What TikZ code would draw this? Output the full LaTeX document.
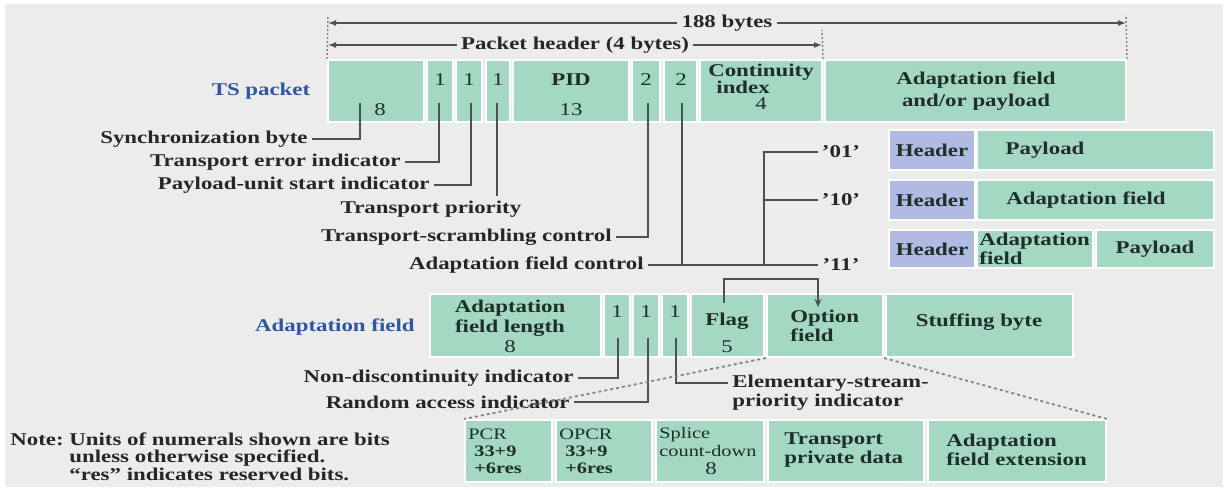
\documentclass[tikz,border=0pt]{standalone}
\usepackage{fontspec}
\setmainfont{Liberation Serif}[FakeStretch=1.27]
\usetikzlibrary{arrows.meta,fit}

\definecolor{bg}{HTML}{ECECEC}
\definecolor{cellgreen}{HTML}{A4D8C3}
\definecolor{hdrblue}{HTML}{B1BAE2}
\definecolor{tsblue}{HTML}{2D56A3}
\definecolor{ink}{HTML}{1E2E28}
\definecolor{leadgray}{HTML}{505050}

\begin{document}
\begin{tikzpicture}[x=0.5pt, y=-0.5pt,
  cell/.style={draw=white, line width=1pt, fill=cellgreen, inner sep=0pt},
  hdrcell/.style={cell, fill=hdrblue},
  txt/.style={font=\bfseries\fontsize{9}{9.8}\selectfont, text=ink, inner sep=1pt, align=center},
  num/.style={font=\fontsize{9}{9.8}\selectfont, text=ink, inner sep=1pt},
  lbl/.style={font=\bfseries\fontsize{9}{9.8}\selectfont, text=black!85, inner sep=2pt},
  rowname/.style={lbl, text=tsblue},
  leader/.style={draw=leadgray, line width=0.7pt},
  guide/.style={draw=leadgray!70, line width=0.7pt, dash pattern=on 1pt off 1pt},
  dim/.style={leader, -{Latex[length=4pt,width=3pt]}},
  zoomline/.style={draw=leadgray!70, line width=0.9pt, dash pattern=on 1.5pt off 1.5pt}]
\useasboundingbox (0,0) rectangle (1229,490);
\fill[white] (0,0) rectangle (1229,490);
\fill[bg] (5,4) rectangle (1223,487);

% TS packet
\node[rowname] (tsname) at (261,91) {TS packet};
\node[cell, fit={(328,60) (424,122)}] (sync) {};
\node[cell, fit={(427,60) (453,122)}] (tei) {};
\node[cell, fit={(456,60) (482,122)}] (pusi) {};
\node[cell, fit={(486,60) (510,122)}] (tprio) {};
\node[cell, fit={(513,60) (629,122)}] (pid) {};
\node[cell, fit={(632,60) (660,122)}] (tsc) {};
\node[cell, fit={(664,60) (697,122)}] (afc) {};
\node[cell, fit={(700,60) (822,122)}] (cc) {};
\node[cell, fit={(825,60) (1126,122)}] (afpay) {};

\node[num] (syncN) at (380,110) {8};
\node[num] (teiN) at (440,80) {1};
\node[num] (pusiN) at (469,80) {1};
\node[num] (tprioN) at (498,80) {1};
\node[txt] (pidT) at (571,80) {PID};
\node[num] (pidN) at (571,110) {13};
\node[num] (tscN) at (646,80) {2};
\node[num] (afcN) at (681,80) {2};
\node[txt] (ccT) at (761,72) {Continuity};
\node[txt, anchor=west] (ccT2) at (714,87) {index};
\node[num] (ccN) at (761,104) {4};
\node[txt] (afpayT) at (976,91) {Adaptation field\\[1pt]and/or payload};

% lengths
\coordinate (l188) at (328,23);
\coordinate (r188) at (1126,23);
\node[lbl, fill=bg] (t188) at (727,23) {188 bytes};
\draw[dim] (t188) -- (l188);
\draw[dim] (t188) -- (r188);
\coordinate (lhdr) at (328,45);
\coordinate (rhdr) at (822,45);
\node[lbl] (thdr) at (575,45) {Packet header (4 bytes)};
\draw[dim] (thdr) -- (lhdr);
\draw[dim] (thdr) -- (rhdr);
\coordinate (g188l) at (328,15);
\coordinate (g188r) at (1126,15);
\coordinate (ghdr) at (822,30);
\draw[guide] (sync.north west) -- (g188l);
\draw[guide] (afpay.north east) -- (g188r);
\draw[guide] (cc.north east) -- (ghdr);

% header fields
\coordinate (pSync) at (360,103);
\coordinate (pTei) at (439,103);
\coordinate (pPusi) at (471,103);
\coordinate (pTprio) at (497,103);
\coordinate (pTsc) at (648,103);
\coordinate (pAfc) at (682,103);
\node[lbl, anchor=east] (lSync) at (312,139) {Synchronization byte};
\node[lbl, anchor=east] (lTei) at (405,162) {Transport error indicator};
\node[lbl, anchor=east] (lPusi) at (434,185) {Payload-unit start indicator};
\node[lbl] (lTprio) at (431,209) {Transport priority};
\node[lbl, anchor=east] (lTsc) at (616,237) {Transport-scrambling control};
\node[lbl, anchor=east] (lAfc) at (648,265) {Adaptation field control};
\draw[leader] (pSync) |- (lSync);
\draw[leader] (pTei) |- (lTei);
\draw[leader] (pPusi) |- (lPusi);
\draw[leader] (pTprio) -- (pTprio |- lTprio.north);
\draw[leader] (pTsc) |- (lTsc);
\draw[leader] (pAfc) -- (pAfc |- lAfc);

% adaptation field control values
\node[lbl] (c01) at (841,152) {'01'};
\node[lbl] (c10) at (841,200) {'10'};
\node[lbl] (c11) at (841,265) {'11'};
\coordinate (fork) at (764,265);
\draw[leader] (lAfc) -- (c11);
\draw[leader] (c01) -| (fork);
\draw[leader] (c10) -- (c10 -| fork);

\node[hdrcell, fit={(889,130) (975,170)}] (h01) {};
\node[cell, fit={(977,130) (1214,170)}] (pl01) {};
\node[hdrcell, fit={(889,180) (975,220)}] (h10) {};
\node[cell, fit={(977,180) (1214,220)}] (af10) {};
\node[hdrcell, fit={(889,230) (975,268)}] (h11) {};
\node[cell, fit={(977,230) (1093,268)}] (af11) {};
\node[cell, fit={(1096,230) (1214,268)}] (pl11) {};
\node[txt] (h01T) at (932,150) {Header};
\node[txt] (pl01T) at (1045,150) {Payload};
\node[txt] (h10T) at (932,200) {Header};
\node[txt] (af10T) at (1086,200) {Adaptation field};
\node[txt] (h11T) at (932,249) {Header};
\node[txt, align=left, anchor=west] (af11T) at (977,249) {Adaptation\\field};
\node[txt] (pl11T) at (1155,249) {Payload};

% adaptation field
\node[rowname, anchor=east] (afname) at (419,327) {Adaptation field};
\node[cell, fit={(430,294) (601,357)}] (aflen) {};
\node[cell, fit={(604,294) (630,357)}] (ndi) {};
\node[cell, fit={(633,294) (659,357)}] (rai) {};
\node[cell, fit={(662,294) (688,357)}] (espi) {};
\node[cell, fit={(691,294) (764,357)}] (flag) {};
\node[cell, fit={(767,294) (883,357)}] (opt) {};
\node[cell, fit={(886,294) (1073,357)}] (stuff) {};
\node[txt] (aflenT) at (510,318) {Adaptation\\field length};
\node[num] (aflenN) at (510,347) {8};
\node[num] (ndiN) at (617,312) {1};
\node[num] (raiN) at (646,312) {1};
\node[num] (espiN) at (675,312) {1};
\node[txt] (flagT) at (727,321) {Flag};
\node[num] (flagN) at (727,347) {5};
\node[txt, align=left, anchor=west] (optT) at (788,326) {Option\\field};
\node[txt] (stuffT) at (979,322) {Stuffing byte};

\coordinate (flagA) at (724,303);
\coordinate (flagB) at (724,279);
\coordinate (optA) at (818,307);
\draw[leader, -{Stealth[length=4pt,width=3.5pt]}] (flagA) -- (flagB) -| (optA);

\coordinate (pNdi) at (618,338);
\coordinate (pRai) at (648,338);
\coordinate (pEspi) at (676,338);
\node[lbl, anchor=east] (lNdi) at (578,378) {Non-discontinuity indicator};
\node[lbl, anchor=east] (lRai) at (574,402) {Random access indicator};
\node[lbl, anchor=west] (lEspi) at (728,383) {Elementary-stream-};
\node[lbl, anchor=west] (lEspi2) at (728,402) {priority indicator};
\draw[leader] (pNdi) |- (lNdi);
\draw[leader] (pRai) |- (lRai);
\draw[leader] (pEspi) |- (lEspi);

% option field contents
\node[cell, fit={(465,420) (552,482)}] (pcr) {};
\node[cell, fit={(556,420) (652,482)}] (opcr) {};
\node[cell, fit={(656,420) (764,482)}] (splice) {};
\node[cell, fit={(768,420) (924,482)}] (tpd) {};
\node[cell, fit={(928,420) (1106,482)}] (afext) {};
\draw[zoomline] (opt.south west) -- (pcr.north west);
\draw[zoomline] (opt.south east) -- (afext.north east);
\node[txt, align=left, anchor=west, font=\bfseries\fontsize{8}{8.6}\selectfont] (pcrT) at (466,451)
  {\mdseries PCR\\\hspace{3pt}33+9\\\hspace{3pt}+6res};
\node[txt, align=left, anchor=west, font=\bfseries\fontsize{8}{8.6}\selectfont] (opcrT) at (557,451)
  {\mdseries OPCR\\\hspace{3pt}33+9\\\hspace{3pt}+6res};
\node[txt, align=left, anchor=west, font=\fontsize{8}{8.6}\selectfont] (spliceT) at (657,442)
  {Splice\\count-down};
\node[num] (spliceN) at (711,469) {8};
\node[txt, align=left, anchor=west] (tpdT) at (782,450) {Transport\\private data};
\node[txt, align=left, anchor=west] (afextT) at (944,450) {Adaptation\\field extension};

% note
\node[lbl, anchor=west, font=\bfseries\fontsize{9}{8.4}\selectfont] (note) at (6,459)
  {\begin{tabular}{@{}l@{\ }l@{}}
   Note: & Units of numerals shown are bits\\
         & unless otherwise specified.\\
         & “res” indicates reserved bits.
   \end{tabular}};
\end{tikzpicture}
\end{document}
